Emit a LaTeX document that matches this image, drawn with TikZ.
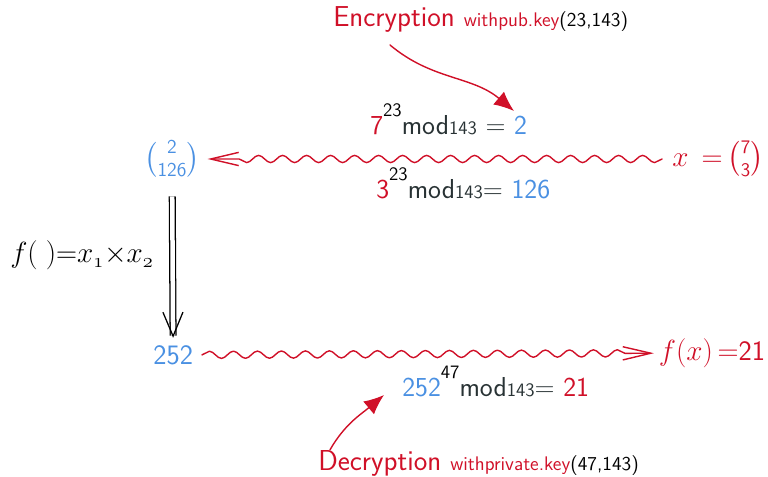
\documentclass[tikz,border=0pt]{standalone}
\usepackage{amsmath}
\usetikzlibrary{arrows.meta,decorations.pathmorphing}
\definecolor{do}{RGB}{208,16,40}
\definecolor{xanh}{RGB}{74,144,226}
\definecolor{xam}{RGB}{40,50,52}
\newcommand{\cochu}[1]{\fontsize{#1}{#1}\selectfont\sffamily}
\begin{document}
\begin{tikzpicture}[line join=round, line cap=round,
	nhan/.style={inner sep=0pt, anchor=base west},
	song/.style={do, line width=1pt, decorate, decoration={snake, segment length=6mm, amplitude=0.9mm, post length=7mm}, -{Straight Barb[length=7mm,width=3.3mm]}},
	cong/.style={do, line width=1pt, -{Latex[length=5mm,width=4.2mm]}}]
	\useasboundingbox (0,0) rectangle (19.2,11.925); % khung hình
	% các nút chính
	\node[xanh, font=\cochu{20}] (mahoa) at (4.3,7.95) {$\binom{\textsf{2}}{\textsf{126}}$};
	\node[do, font=\cochu{19.5}, outer sep=4pt] (banro) at (17.95,7.95) {$x\;\,{=}\,\binom{\textsf{7}}{\textsf{3}}$};
	\node[xanh, font=\cochu{20}, outer sep=3pt] (tich) at (4.33,3.05) {252};
	\node[do, font=\cochu{20}] (ketqua) at (17.8,3.1) {$f(x)\,{=}$21};
	\node[nhan, font=\cochu{20}] (ham) at (0.25,5.35) {$f(\;)\mathord{=}x_{\mathnormal{1}}\mathord{\times}x_{\mathnormal{2}}$};
	% các phép tính mod
	\node[nhan, xam, font=\cochu{19.5}] (pt1) at (9.25,8.55) {{\color{do}7}\raisebox{13pt}{\color{black}\cochu{13.5}23}mod{\cochu{13.5}143} = {\color{xanh}2}};
	\node[nhan, xam, font=\cochu{19.5}] (pt2) at (9.4,6.95) {{\color{do}3}\raisebox{13pt}{\color{black}\cochu{13.5}23}mod{\cochu{13.5}143}= {\color{xanh}126}};
	\node[nhan, xam, font=\cochu{19.5}] (pt3) at (10.05,2.0) {{\color{xanh}252}\raisebox{13pt}{\color{black}\cochu{13.5}47}mod{\cochu{13.5}143}= {\color{do}21}};
	% nhãn mã hoá, giải mã
	\node[nhan, do, font=\cochu{20.5}] (mh) at (8.325,11.25) {Encryption {\cochu{14}withpub.key\color{black}(23,143)}};
	\node[nhan, do, font=\cochu{20.5}] (gm) at (7.95,0.15) {Decryption {\cochu{14}withprivate.key\color{black}(47,143)}};
	\coordinate (mhA) at (9.75,10.8);
	\coordinate (mhB) at (12.85,9.15);
	\coordinate (gmA) at (8.25,0.68);
	\coordinate (gmB) at (9.6,2.05);
	% mũi tên
	\draw[song, shorten >=2pt] (banro) -- (mahoa);
	\draw[song] (tich) -- (ketqua);
	\draw[double, double distance=3.2pt, line width=0.9pt, line cap=butt, -{Straight Barb[length=6mm,width=5mm]}, shorten <=10pt, shorten >=-1pt] (mahoa) -- (tich);
	\draw[cong] (mhA) to[out=-40, in=140] (mhB);
	\draw[cong] (gmA) to[out=60, in=-140] (gmB);
\end{tikzpicture}
\end{document}
